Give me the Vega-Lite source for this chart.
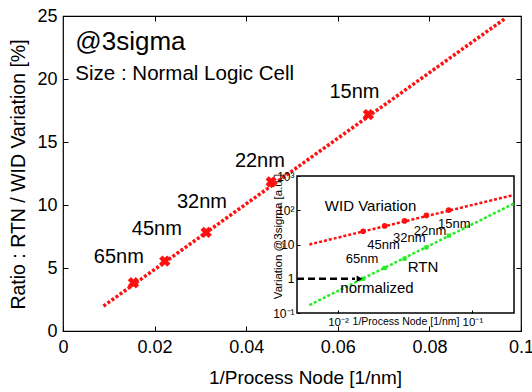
{
  "$schema": "https://vega.github.io/schema/vega-lite/v6.json",
  "width": 458,
  "height": 315,
  "autosize": {"type": "none"},
  "padding": {"left": 63, "top": 16, "right": 11, "bottom": 61},
  "background": "white",
  "config": {
    "view": {"stroke": "black", "strokeWidth": 1.2},
    "font": "Liberation Sans",
    "text": {"font": "Liberation Sans", "color": "black"},
    "axis": {
      "labelFont": "Liberation Sans",
      "titleFont": "Liberation Sans",
      "labelColor": "black",
      "titleColor": "black",
      "tickColor": "black",
      "titleFontWeight": "normal",
      "labelFlush": false,
      "labelOverlap": false,
      "grid": false
    }
  },
  "datasets": {
    "ratio_points": [
      {"node": "65nm", "x": 0.01538, "y": 3.83},
      {"node": "45nm", "x": 0.02222, "y": 5.55},
      {"node": "32nm", "x": 0.03125, "y": 7.83},
      {"node": "22nm", "x": 0.04545, "y": 11.84},
      {"node": "15nm", "x": 0.06667, "y": 17.18}
    ],
    "ratio_fit": [
      {"x": 0.00884, "y": 1.98},
      {"x": 0.0966, "y": 24.82}
    ],
    "ratio_labels": [
      {"text": "65nm", "x": 0.01218, "y": 5.9},
      {"text": "45nm", "x": 0.0205, "y": 8.13},
      {"text": "32nm", "x": 0.03033, "y": 10.21},
      {"text": "22nm", "x": 0.04299, "y": 13.49},
      {"text": "15nm", "x": 0.06365, "y": 18.94}
    ],
    "inset_frame": [{"ix": 0.00495, "ix2": 0.204, "iy": 0.1, "iy2": 1000}],
    "wid_points": [
      {"node": "65nm", "ix": 0.01538, "iy": 24.3},
      {"node": "45nm", "ix": 0.02222, "iy": 34.8},
      {"node": "32nm", "ix": 0.03125, "iy": 48.7},
      {"node": "22nm", "ix": 0.04545, "iy": 70.7},
      {"node": "15nm", "ix": 0.06667, "iy": 101}
    ],
    "rtn_points": [
      {"node": "65nm", "ix": 0.01538, "iy": 1.0},
      {"node": "45nm", "ix": 0.02222, "iy": 2.06},
      {"node": "32nm", "ix": 0.03125, "iy": 3.85},
      {"node": "22nm", "ix": 0.04545, "iy": 8.2},
      {"node": "15nm", "ix": 0.06667, "iy": 18.2}
    ],
    "wid_fit": [{"ix": 0.00612, "iy": 10}, {"ix": 0.204, "iy": 281}],
    "rtn_fit": [{"ix": 0.00612, "iy": 0.17}, {"ix": 0.204, "iy": 157}],
    "arrow": [{"ix": 0.00495, "ix2": 0.01337, "iy": 1}],
    "arrow_head": [{"ix": 0.01445, "iy": 1}],
    "inset_node_labels": [
      {"text": "65nm", "ix": 0.01507, "iy": 3.85},
      {"text": "45nm", "ix": 0.02178, "iy": 9.35},
      {"text": "32nm", "ix": 0.0339, "iy": 15.2},
      {"text": "22nm", "ix": 0.0484, "iy": 24.3},
      {"text": "15nm", "ix": 0.0733, "iy": 39.8}
    ],
    "inset_series_labels": [
      {"text": "WID Variation", "ix": 0.01746, "iy": 129},
      {"text": "RTN", "ix": 0.0429, "iy": 2.15},
      {"text": "normalized", "ix": 0.0195, "iy": 0.541}
    ]
  },
  "resolve": {"scale": {"x": "independent", "y": "independent"}},
  "layer": [
    {
      "layer": [
        {
          "data": {"name": "ratio_fit"},
          "mark": {"type": "line", "color": "#ff1010", "strokeWidth": 3.5, "strokeDash": [3, 2]},
          "encoding": {
            "x": {
              "field": "x", "type": "quantitative",
              "scale": {"domain": [0, 0.1], "nice": false, "zero": false},
              "axis": {
                "values": [0, 0.02, 0.04, 0.06, 0.08, 0.1],
                "labelExpr": "'' + datum.value",
                "labelFontSize": 18,
                "tickSize": -5,
                "labelPadding": 12,
                "domain": false,
                "title": "1/Process Node [1/nm]",
                "titleFontSize": 19,
                "titleX": 242,
                "titleY": 46,
                "titleBaseline": "middle",
                "titleAlign": "center"
              }
            },
            "y": {
              "field": "y", "type": "quantitative",
              "scale": {"domain": [0, 25], "nice": false},
              "axis": {
                "values": [0, 5, 10, 15, 20, 25],
                "labelFontSize": 18,
                "tickSize": -5,
                "labelPadding": 11,
                "domain": false,
                "title": "Ratio : RTN / WID Variation [%]",
                "titleFontSize": 19.5,
                "titleX": -44.5,
                "titleY": 158,
                "titleAngle": 270,
                "titleBaseline": "middle",
                "titleAlign": "center"
              }
            }
          }
        },
        {
          "data": {"name": "ratio_points"},
          "mark": {"type": "point", "shape": "cross", "angle": 45, "filled": true, "color": "#ff1010", "size": 130, "opacity": 1},
          "encoding": {
            "x": {"field": "x", "type": "quantitative"},
            "y": {"field": "y", "type": "quantitative"}
          }
        },
        {
          "data": {"name": "ratio_labels"},
          "mark": {"type": "text", "fontSize": 20, "align": "center", "baseline": "middle"},
          "encoding": {
            "x": {"field": "x", "type": "quantitative"},
            "y": {"field": "y", "type": "quantitative"},
            "text": {"field": "text"}
          }
        },
        {
          "data": {"values": [{"text": "@3sigma", "x": 0.0027, "y": 22.9}]},
          "mark": {"type": "text", "fontSize": 26, "align": "left", "baseline": "middle"},
          "encoding": {
            "x": {"field": "x", "type": "quantitative"},
            "y": {"field": "y", "type": "quantitative"},
            "text": {"field": "text"}
          }
        },
        {
          "data": {"values": [{"text": "Size : Normal Logic Cell", "x": 0.0027, "y": 20.4}]},
          "mark": {"type": "text", "fontSize": 20.5, "align": "left", "baseline": "middle"},
          "encoding": {
            "x": {"field": "x", "type": "quantitative"},
            "y": {"field": "y", "type": "quantitative"},
            "text": {"field": "text"}
          }
        }
      ]
    },
    {
      "layer": [
        {
          "data": {"name": "inset_frame"},
          "mark": {"type": "rect", "fill": "white", "stroke": "black", "strokeWidth": 1.5},
          "encoding": {
            "x": {
              "field": "ix", "type": "quantitative",
              "scale": {"type": "log", "domain": [0.00495, 0.204], "range": [234, 451], "nice": false},
              "axis": {
                "orient": "bottom",
                "offset": -18,
                "values": [0.01, 0.1],
                "labelExpr": "datum.value < 0.05 ? '10⁻²' : '10⁻¹'",
                "labelFontSize": 11.5,
                "tickSize": -3,
                "labelPadding": 6,
                "domain": false,
                "title": "1/Process Node [1/nm]",
                "titleFontSize": 10.5,
                "titleY": 8,
                "titleBaseline": "middle",
                "zindex": 2
              }
            },
            "x2": {"field": "ix2"},
            "y": {
              "field": "iy", "type": "quantitative",
              "scale": {"type": "log", "domain": [0.1, 1000], "range": [297, 160], "nice": false},
              "axis": {
                "orient": "left",
                "offset": -234,
                "values": [0.1, 1, 10, 100, 1000],
                "labelExpr": "datum.value >= 999 ? '10³' : datum.value >= 99 ? '10²' : datum.value >= 9 ? '10' : datum.value >= 0.9 ? '1' : '10⁻¹'",
                "labelFontSize": 12,
                "tickSize": -3,
                "labelPadding": 6,
                "domain": false,
                "title": "Variation @3sigma [a.u.]",
                "titleFontSize": 11.5,
                "titleX": -19,
                "titleY": 220,
                "titleAngle": 270,
                "titleBaseline": "middle",
                "titleAlign": "center",
                "zindex": 2
              }
            },
            "y2": {"field": "iy2"}
          }
        },
        {
          "data": {"name": "wid_fit"},
          "mark": {"type": "line", "color": "#ff1010", "strokeWidth": 2.5, "strokeDash": [3, 2]},
          "encoding": {
            "x": {"field": "ix", "type": "quantitative"},
            "y": {"field": "iy", "type": "quantitative"}
          }
        },
        {
          "data": {"name": "rtn_fit"},
          "mark": {"type": "line", "color": "#22ee22", "strokeWidth": 2.5, "strokeDash": [3, 2]},
          "encoding": {
            "x": {"field": "ix", "type": "quantitative"},
            "y": {"field": "iy", "type": "quantitative"}
          }
        },
        {
          "data": {"name": "wid_points"},
          "mark": {"type": "point", "shape": "circle", "filled": true, "color": "#ff1010", "size": 32, "opacity": 1},
          "encoding": {
            "x": {"field": "ix", "type": "quantitative"},
            "y": {"field": "iy", "type": "quantitative"}
          }
        },
        {
          "data": {"name": "rtn_points"},
          "mark": {"type": "point", "shape": "square", "filled": true, "color": "#22ee22", "size": 18, "opacity": 1},
          "encoding": {
            "x": {"field": "ix", "type": "quantitative"},
            "y": {"field": "iy", "type": "quantitative"}
          }
        },
        {
          "data": {"name": "arrow"},
          "mark": {"type": "rule", "color": "black", "strokeWidth": 2.5, "strokeDash": [7, 4]},
          "encoding": {
            "x": {"field": "ix", "type": "quantitative"},
            "x2": {"field": "ix2"},
            "y": {"field": "iy", "type": "quantitative"}
          }
        },
        {
          "data": {"name": "arrow_head"},
          "mark": {"type": "point", "shape": "triangle-right", "filled": true, "color": "black", "size": 45, "opacity": 1},
          "encoding": {
            "x": {"field": "ix", "type": "quantitative"},
            "y": {"field": "iy", "type": "quantitative"}
          }
        },
        {
          "data": {"name": "inset_node_labels"},
          "mark": {"type": "text", "fontSize": 13, "align": "center", "baseline": "middle"},
          "encoding": {
            "x": {"field": "ix", "type": "quantitative"},
            "y": {"field": "iy", "type": "quantitative"},
            "text": {"field": "text"}
          }
        },
        {
          "data": {"name": "inset_series_labels"},
          "mark": {"type": "text", "fontSize": 15, "align": "center", "baseline": "middle"},
          "encoding": {
            "x": {"field": "ix", "type": "quantitative"},
            "y": {"field": "iy", "type": "quantitative"},
            "text": {"field": "text"}
          }
        }
      ]
    },
    {
      "data": {"name": "ratio_points"},
      "mark": {"type": "point", "opacity": 0},
      "encoding": {
        "x": {
          "field": "x", "type": "quantitative",
          "scale": {"domain": [0, 0.1], "nice": false, "zero": false},
          "axis": {"orient": "top", "values": [0.02, 0.04, 0.06, 0.08], "labels": false, "tickSize": -5, "domain": false, "title": null}
        },
        "y": {
          "field": "y", "type": "quantitative",
          "scale": {"domain": [0, 25], "nice": false},
          "axis": {"orient": "right", "values": [5, 10, 15, 20], "labels": false, "tickSize": -5, "domain": false, "title": null}
        }
      }
    }
  ]
}
